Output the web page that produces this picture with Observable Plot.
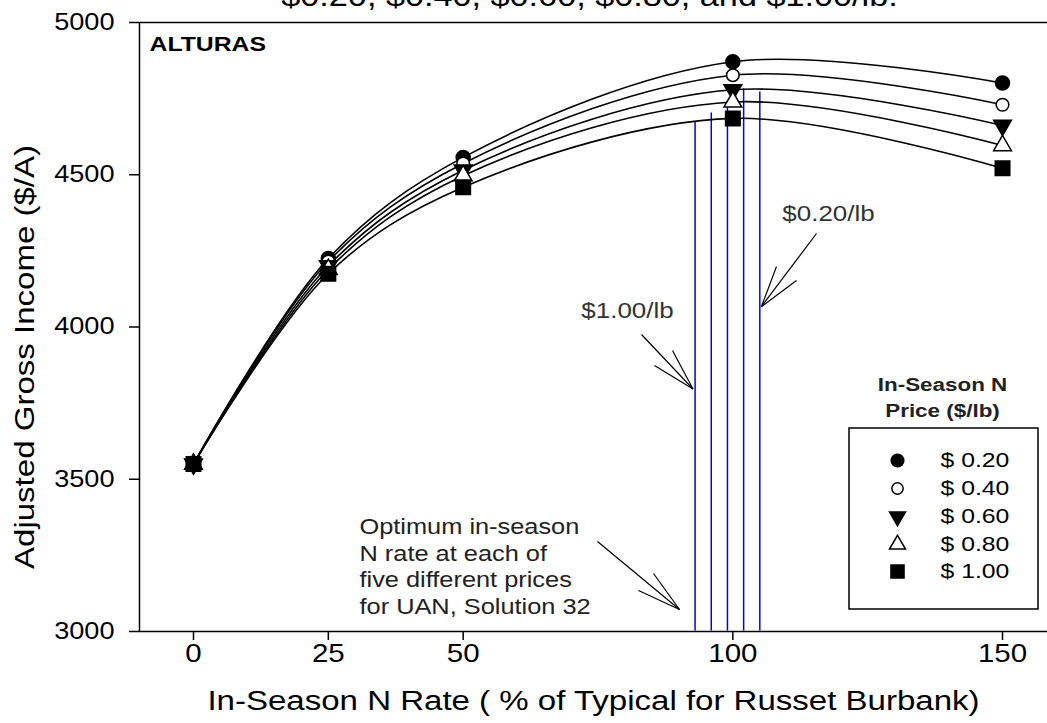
<!DOCTYPE html>
<html><head><meta charset="utf-8">
<script src="https://cdn.jsdelivr.net/npm/d3@7"></script>
<script src="https://cdn.jsdelivr.net/npm/@observablehq/plot@0.6"></script>
<style>
body{margin:0;background:#fff;overflow:hidden;}
#wrap{position:relative;width:1047px;height:723px;font-family:"Liberation Sans",Arial,sans-serif;overflow:hidden;}
#title{position:absolute;top:-18px;left:66px;width:1047px;text-align:center;font-size:29px;line-height:29px;color:#000;transform:scaleX(1.18);transform-origin:center;white-space:nowrap;}
#chart{position:absolute;top:0;left:0;}
</style></head>
<body><div id="wrap"><div id="chart"></div><div id="title">$0.20, $0.40, $0.60, $0.80, and $1.00/lb.</div></div>
<script>
// ---- data ----
const nRates = [0, 25, 50, 100, 150];
const priceLabels = ["$ 0.20", "$ 0.40", "$ 0.60", "$ 0.80", "$ 1.00"];
const income020 = [3550, 4225, 4557, 4871, 4801];
const income040 = [3550, 4215, 4537, 4827, 4730];
const income060 = [3550, 4201, 4515, 4779, 4662];
const income080 = [3550, 4189, 4497, 4739, 4596];
const income100 = [3550, 4175, 4459, 4685, 4521];
const optimumRates = [105, 102, 99, 96, 93];        // $0.20 ... $1.00
const optimumTops = [4772, 4782, 4742, 4703, 4675];
const xTicks = [0, 25, 50, 100, 150];
const yTicks = [3000, 3500, 4000, 4500, 5000];

// ---- layout ----
const W = 1047, H = 723, mL = 139, mR = 0, mT = 22, mB = 92;
const xDomain = [-10.01, 158.34], yDomain = [3000, 5000];
const px2x = (px) => xDomain[0] + (px - mL) / (W - mL - mR) * (xDomain[1] - xDomain[0]);
const py2y = (py) => yDomain[1] - (py - mT) / (H - mT - mB) * (yDomain[1] - yDomain[0]);

const triDown = {
  draw(context, size) {
    const y = -Math.sqrt(size / (Math.sqrt(3) * 3));
    context.moveTo(0, -y * 2);
    context.lineTo(-Math.sqrt(3) * y, y);
    context.lineTo(Math.sqrt(3) * y, y);
    context.closePath();
  }
};
const series = [
  {vals: income020, symbol: "circle", r: 7, fill: "black"},
  {vals: income040, symbol: "circle", r: 6.3, fill: "white"},
  {vals: income060, symbol: triDown, r: 6.6, fill: "black"},
  {vals: income080, symbol: "triangle", r: 6.6, fill: "white"},
  {vals: income100, symbol: "square", r: 8.2, fill: "black"}
];

const arrows = [
  {tail: [816, 233], tip: [761, 306], b1: [776, 266], b2: [796, 280]},
  {tail: [641, 334], tip: [692.5, 388.5], b1: [654, 365], b2: [672, 350]},
  {tail: [597, 541], tip: [679, 609], b1: [653, 573], b2: [638, 590]}
];
const links = [];
for (const a of arrows) {
  for (const [p, q] of [[a.tail, a.tip], [a.tip, a.b1], [a.tip, a.b2]])
    links.push({x1: px2x(p[0]), y1: py2y(p[1]), x2: px2x(q[0]), y2: py2y(q[1])});
}

const marks = [];
marks.push(Plot.ruleX(optimumRates.map((x, i) => ({x, top: optimumTops[i]})),
  {x: "x", y1: 3002, y2: "top", stroke: "#0000ff", strokeWidth: 1.5}));
for (const s of series) {
  const d = nRates.map((x, i) => ({x, y: s.vals[i]}));
  marks.push(Plot.line(d, {x: "x", y: "y", curve: "catmull-rom", stroke: "black", strokeWidth: 1.6}));
}
for (const s of series) {
  const d = nRates.map((x, i) => ({x, y: s.vals[i]}));
  marks.push(Plot.dot(d, {x: "x", y: "y", symbol: s.symbol, r: s.r, fill: s.fill, stroke: "black", strokeWidth: 1.5}));
}
// frame / axes
marks.push(Plot.ruleY([3000, 5000], {strokeWidth: 1.5}));
marks.push(Plot.ruleX([xDomain[0]], {strokeWidth: 1.5}));
marks.push(Plot.axisY(yTicks, {tickSize: 10, tickPadding: 15, fontSize: 23, label: null, tickFormat: (d) => `${d}`, strokeWidth: 1.5}));
marks.push(Plot.axisX(xTicks, {tickSize: 9, tickPadding: 4, fontSize: 25, label: null, tickFormat: (d) => `${d}`, strokeWidth: 1.5}));
marks.push(Plot.text(["Adjusted Gross Income ($/A)"], {frameAnchor: "left", textAnchor: "middle", lineAnchor: "middle", rotate: -90, dx: -114, dy: 30, fontSize: 28}));
marks.push(Plot.text(["In-Season N Rate ( % of Typical for Russet Burbank)"], {frameAnchor: "bottom", textAnchor: "middle", lineAnchor: "middle", dy: 70, fontSize: 28}));
marks.push(Plot.text(["ALTURAS"], {frameAnchor: "top-left", lineAnchor: "middle", dx: 10, dy: 22, fontSize: 21, fontWeight: "bold", textAnchor: "start"}));
// annotations
marks.push(Plot.link(links, {x1: "x1", y1: "y1", x2: "x2", y2: "y2", stroke: "black", strokeWidth: 1.2}));
marks.push(Plot.text([{x: px2x(828), y: py2y(213), t: "$0.20/lb"}], {x: "x", y: "y", text: "t", fontSize: 22, fill: "#333"}));
marks.push(Plot.text([{x: px2x(627), y: py2y(310), t: "$1.00/lb"}], {x: "x", y: "y", text: "t", fontSize: 22, fill: "#333"}));
marks.push(Plot.text([{x: px2x(359), y: py2y(565), t: "Optimum in-season\nN rate at each of\nfive different prices\nfor UAN, Solution 32"}],
  {x: "x", y: "y", text: "t", fontSize: 21.5, lineHeight: 1.23, textAnchor: "start", fill: "#222"}));
// legend
marks.push(Plot.text([{x: px2x(942), y: py2y(395), t: "In-Season N\nPrice ($/lb)"}],
  {x: "x", y: "y", text: "t", fontSize: 19, fontWeight: "bold", lineHeight: 1.35, fill: "#222"}));
marks.push(Plot.rect([{x1: px2x(849), x2: px2x(1038), y1: py2y(609), y2: py2y(428)}],
  {x1: "x1", x2: "x2", y1: "y1", y2: "y2", fill: "none", stroke: "black", strokeWidth: 1.5}));
const rowsPx = [460, 488, 516, 544, 571];
series.forEach((s, i) => {
  marks.push(Plot.dot([{x: px2x(897), y: py2y(rowsPx[i])}], {x: "x", y: "y", symbol: s.symbol, r: s.r * 0.9, fill: s.fill, stroke: "black", strokeWidth: 1.5}));
  marks.push(Plot.text([{x: px2x(940), y: py2y(rowsPx[i]), t: priceLabels[i]}], {x: "x", y: "y", text: "t", fontSize: 21, textAnchor: "start"}));
});

const svg = Plot.plot({
  width: W, height: H,
  marginLeft: mL, marginRight: mR, marginTop: mT, marginBottom: mB,
  x: {domain: xDomain},
  y: {domain: yDomain},
  style: {fontFamily: "'Liberation Sans', Arial, sans-serif", fontSize: "20px", background: "white", color: "black", overflow: "visible"},
  marks
});
// horizontal text stretch, as in the original figure (scale about each text's anchor)
const S = 1.18;
svg.querySelectorAll("text").forEach((t) => {
  let tr = t.getAttribute("transform") || "";
  const x = t.getAttribute("x");
  if (x != null && /^-?[\d.]+$/.test(x) && parseFloat(x) !== 0) {
    tr += ` translate(${x},0)`;
    t.setAttribute("x", 0);
  }
  t.setAttribute("transform", (tr + ` scale(${S},1)`).trim());
});
document.getElementById("chart").appendChild(svg);
</script>
</body></html>
